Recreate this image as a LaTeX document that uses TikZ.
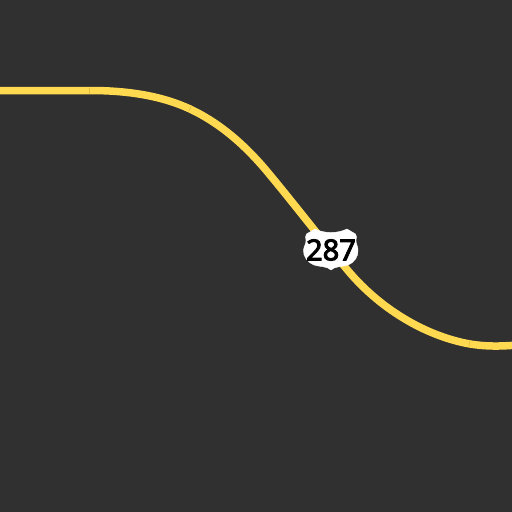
\documentclass[tikz,border=0pt]{standalone}
\usepackage{fontspec}
\setmainfont{Noto Sans}
\newfontfamily\shieldfont[FakeBold=3.2]{Noto Sans}
\definecolor{bgc}{HTML}{303030}
\definecolor{roadc}{HTML}{FFD950}
\definecolor{seamc}{HTML}{E0BC40}
\tikzset{
  road/.style={draw=roadc,line width=7.5pt},
  seam/.style={draw=seamc,line width=0.7pt},
  shield/.style={fill=white,draw=white,line width=0.4pt,line join=round},
  shieldtext/.style={inner sep=0pt,text=black,font=\shieldfont\fontsize{29}{29}\selectfont}
}
\begin{document}
\begin{tikzpicture}[x=1pt,y=-1pt]
\useasboundingbox (0,0) rectangle (512,512);
\fill[bgc] (0,0) rectangle (512,512);
\draw[road] (-5,90.5) -- (90,90.5)
  .. controls (125,90.5) and (160,95) .. (190,109)
  .. controls (222,124) and (248,148) .. (270,175)
  .. controls (295,205) and (320,238) .. (345,267)
  .. controls (378,308) and (425,336) .. (470,344)
  .. controls (485,346.5) and (500,346.5) .. (517,345);
\draw[seam] (89.5,87.5) -- (89.5,93.5);
\draw[seam] (191.5,105.5) -- (189,111);
\draw[seam] (469.5,341) -- (469,347);
\draw[shield] (303.5,250)
  .. controls (304,246) and (306.5,243) .. (306,240)
  .. controls (305.5,238) and (305,236) .. (306.5,234)
  -- (315,229)
  .. controls (320,231.5) and (326,232.5) .. (331,232.5)
  .. controls (336,232.5) and (342,231.5) .. (347,229)
  -- (355.5,234)
  .. controls (357,236) and (356.5,238) .. (356,240)
  .. controls (355.5,243) and (358,246) .. (358,250)
  .. controls (358.5,256) and (355,262) .. (348,265)
  .. controls (342,267) and (335,266) .. (331,270)
  .. controls (327,266) and (320,267) .. (314,265)
  .. controls (307,262) and (303,256) .. (303.5,250) -- cycle;
\node[shieldtext] (num) at (331,250) {287};
\end{tikzpicture}
\end{document}
